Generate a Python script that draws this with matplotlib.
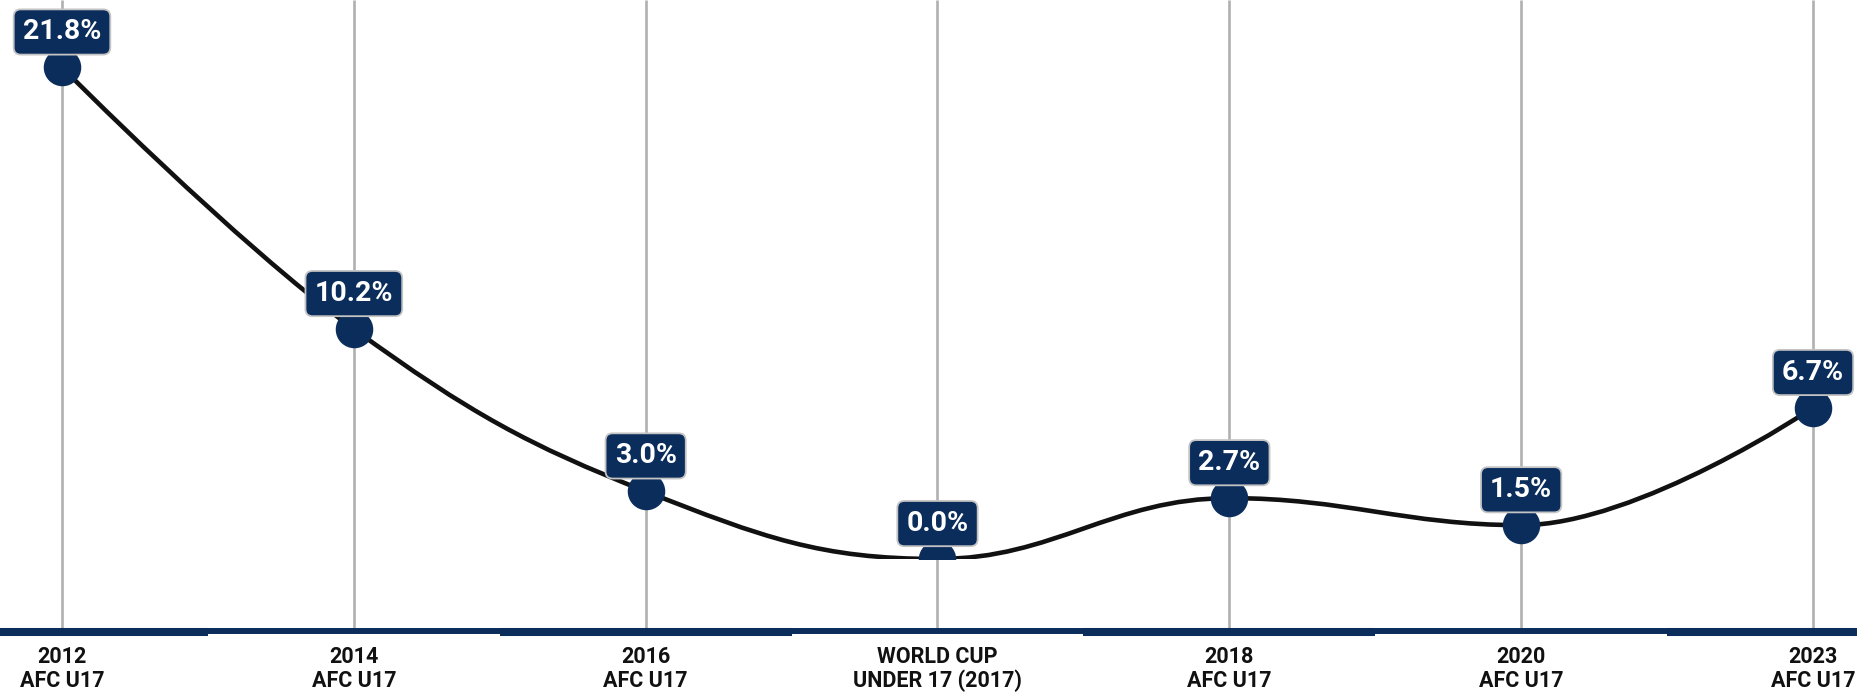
import matplotlib
matplotlib.use("Agg")
import matplotlib.pyplot as plt
from matplotlib.path import Path
from matplotlib.patches import PathPatch, Rectangle

# data
categories = ["2012\nAFC U17", "2014\nAFC U17", "2016\nAFC U17",
              "WORLD CUP\nUNDER 17 (2017)", "2018\nAFC U17", "2020\nAFC U17",
              "2023\nAFC U17"]
values = [21.8, 10.2, 3.0, 0.0, 2.7, 1.5, 6.7]
labels = ["21.8%", "10.2%", "3.0%", "0.0%", "2.7%", "1.5%", "6.7%"]

NAVY = "#0b2d5b"
GRID = "#b0b0b0"
FONT = "Roboto"

W, H, DPI = 1858, 695, 100
fig = plt.figure(figsize=(W / DPI, H / DPI), dpi=DPI)
ax = fig.add_axes([0, 0, 1, 1])
ax.set_axis_off()

# layout (pixel based)
x0_px, x6_px = 62, 1813
unit_x = (x6_px - x0_px) / 6
ax.set_xlim(-x0_px / unit_x, 6 + (W - x6_px) / unit_x)
y0_px, unit_y = 559, 22.55
ax.set_ylim(-(H - y0_px) / unit_y, y0_px / unit_y)


def py(p):
    return -(p - y0_px) / unit_y


xs = list(range(len(values)))

# vertical grid lines
axis_y = py(632)
ax.vlines(xs, axis_y, ax.get_ylim()[1], color=GRID, lw=1.9, zorder=1)

# x axis band line (alternating thickness)
lo, hi = ax.get_xlim()
edges = [lo] + [i + 0.5 for i in xs[:-1]] + [hi]
for i in range(len(edges) - 1):
    if i % 2 == 0:
        ax.hlines(py(632), edges[i], edges[i + 1], color=NAVY, lw=5.8, zorder=2)
    else:
        ax.hlines(py(631), edges[i], edges[i + 1], color=NAVY, lw=4.3, zorder=2)

# category labels
for x, c in zip(xs, categories):
    ax.text(x, py(646), c, ha="center", va="top", fontsize=15.5,
            fontweight="bold", family=FONT, color="#111111", linespacing=1.1)


# smooth spline (highcharts style control points)
def spline_path(px, pv, smoothing=1.5):
    denom = smoothing + 1
    n = len(px)
    right = [None] * n
    left = [None] * n
    for i in range(1, n - 1):
        x, y = px[i], pv[i]
        lx, ly, nx, ny = px[i - 1], pv[i - 1], px[i + 1], pv[i + 1]
        lcx = (smoothing * x + lx) / denom
        lcy = (smoothing * y + ly) / denom
        rcx = (smoothing * x + nx) / denom
        rcy = (smoothing * y + ny) / denom
        corr = (rcy - lcy) * (rcx - x) / (rcx - lcx) + y - rcy
        lcy += corr
        rcy += corr
        if lcy > ly and lcy > y:
            lcy = max(ly, y); rcy = 2 * y - lcy
        elif lcy < ly and lcy < y:
            lcy = min(ly, y); rcy = 2 * y - lcy
        if rcy > ny and rcy > y:
            rcy = max(ny, y); lcy = 2 * y - rcy
        elif rcy < ny and rcy < y:
            rcy = min(ny, y); lcy = 2 * y - rcy
        left[i] = (lcx, lcy)
        right[i] = (rcx, rcy)
    verts = [(px[0], pv[0])]
    codes = [Path.MOVETO]
    for i in range(1, n):
        c1 = right[i - 1] or (px[i - 1], pv[i - 1])
        c2 = left[i] or (px[i], pv[i])
        verts += [c1, c2, (px[i], pv[i])]
        codes += [Path.CURVE4] * 3
    return Path(verts, codes)


clip = Rectangle((lo, 0), hi - lo, 100, transform=ax.transData)

line = PathPatch(spline_path(xs, values), facecolor="none", edgecolor="#111111",
                 lw=3.3, zorder=3, capstyle="round")
ax.add_patch(line)
line.set_clip_path(clip)

pts, = ax.plot(xs, values, "o", ms=26, color=NAVY, mec=NAVY, zorder=4)
pts.set_clip_path(clip)

# value labels
for x, v, t in zip(xs, values, labels):
    ax.annotate(t, (x, v), xytext=(0, 25.5), textcoords="offset points",
                ha="center", va="center", fontsize=20.5, fontweight="bold",
                family=FONT, color="white", zorder=5,
                bbox=dict(boxstyle="round,pad=0.32,rounding_size=0.25",
                          fc=NAVY, ec="#c4c4c4", lw=1.3))

fig.savefig("out.png", dpi=DPI)
